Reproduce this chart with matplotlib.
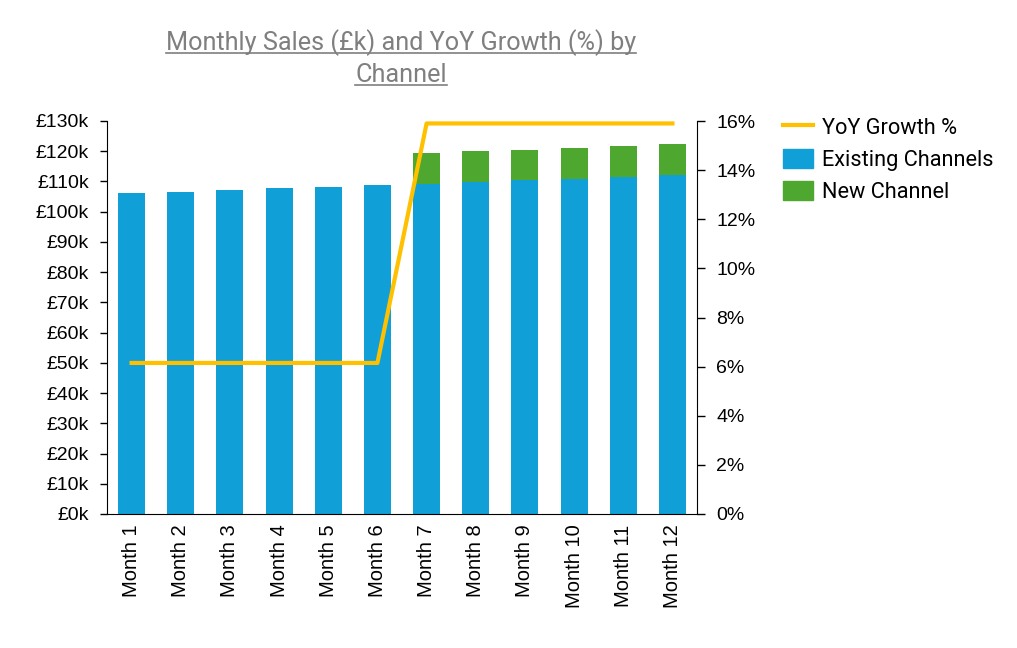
import matplotlib.pyplot as plt
from matplotlib.lines import Line2D
from matplotlib.ticker import FuncFormatter
import numpy as np

plt.rcParams['font.family'] = ['Roboto', 'DejaVu Sans']

# Data
months = ['Month 1', 'Month 2', 'Month 3', 'Month 4', 'Month 5', 'Month 6',
          'Month 7', 'Month 8', 'Month 9', 'Month 10', 'Month 11', 'Month 12']
existing = [106.1, 106.5, 107.1, 107.8, 108.1, 108.8,
            109.3, 109.9, 110.5, 110.8, 111.4, 112.1]
new_channel = [0, 0, 0, 0, 0, 0, 10.1, 10.2, 9.9, 10.3, 10.3, 10.3]
yoy_growth = [6.15, 6.15, 6.15, 6.15, 6.15, 6.15,
              15.9, 15.9, 15.9, 15.9, 15.9, 15.9]

blue = '#109FD7'
green = '#4EA72E'
yellow = '#FFC000'
tick_font = ['Liberation Sans', 'DejaVu Sans']

fig = plt.figure(figsize=(10.17, 6.48), dpi=100)
ax = fig.add_axes([107 / 1017, 1 - 514 / 648, 590 / 1017, 393 / 648])
x = np.arange(len(months))

ax.bar(x, existing, width=0.55, color=blue, label='Existing Channels', zorder=2)
ax.bar(x, new_channel, width=0.55, bottom=existing, color=green, label='New Channel', zorder=2)
ax.set_ylim(0, 130)
ax.set_xlim(-0.5, len(months) - 0.5)
ax.set_yticks(np.arange(0, 131, 10))
ax.yaxis.set_major_formatter(FuncFormatter(lambda v, p: f'£{int(v)}k'))
ax.set_xticks(x)
ax.set_xticklabels(months, rotation=90, fontsize=14.5, family=tick_font)
for lab in ax.get_yticklabels():
    lab.set_family(tick_font)
ax.tick_params(axis='x', length=0, pad=7.5)
ax.tick_params(axis='y', labelsize=14, length=5, width=1, pad=8)
ax.spines['top'].set_visible(False)
ax.spines['right'].set_visible(False)
for s in ['left', 'bottom']:
    ax.spines[s].set_color('black')

ax2 = ax.twinx()
ax2.plot(x, yoy_growth, color=yellow, linewidth=3, label='YoY Growth %', zorder=3)
ax2.set_ylim(0, 16)
ax2.set_yticks(np.arange(0, 17, 2))
ax2.yaxis.set_major_formatter(FuncFormatter(lambda v, p: f'{int(v)}%'))
ax2.tick_params(axis='y', labelsize=14, length=6, width=1, pad=8)
for lab in ax2.get_yticklabels():
    lab.set_family(tick_font)
ax2.spines['top'].set_visible(False)
ax2.spines['left'].set_visible(False)
ax2.spines['bottom'].set_visible(False)
ax2.spines['right'].set_color('black')

handles = [Line2D([0], [0], color=yellow, linewidth=3),
           plt.Rectangle((0, 0), 1, 1, color=blue),
           plt.Rectangle((0, 0), 1, 1, color=green)]
labels = ['YoY Growth %', 'Existing Channels', 'New Channel']
fig.legend(handles, labels, loc='upper left', bbox_to_anchor=(763 / 1017, 1 - 97 / 648),
           frameon=False, fontsize=15.7, handlelength=1.38, handleheight=0.97,
           labelspacing=0.47, handletextpad=0.42, borderpad=0.4)

# Title with underline (two lines, each underlined)
title_lines = ['Monthly Sales (£k) and YoY Growth (%) by', 'Channel']
title_base = [50.5, 82.5]
fig.canvas.draw()
renderer = fig.canvas.get_renderer()
for line, by in zip(title_lines, title_base):
    t = fig.text(401 / 1017, 1 - by / 648, line, ha='center', va='baseline',
                 fontsize=18.2, color='#7F7F7F')
    bb = t.get_window_extent(renderer=renderer).transformed(fig.transFigure.inverted())
    uy = 1 - (by + 2) / 648
    fig.add_artist(Line2D([bb.x0, bb.x1], [uy, uy], color='#7F7F7F', linewidth=1.2,
                          transform=fig.transFigure))

plt.savefig('out.png', dpi=100)
